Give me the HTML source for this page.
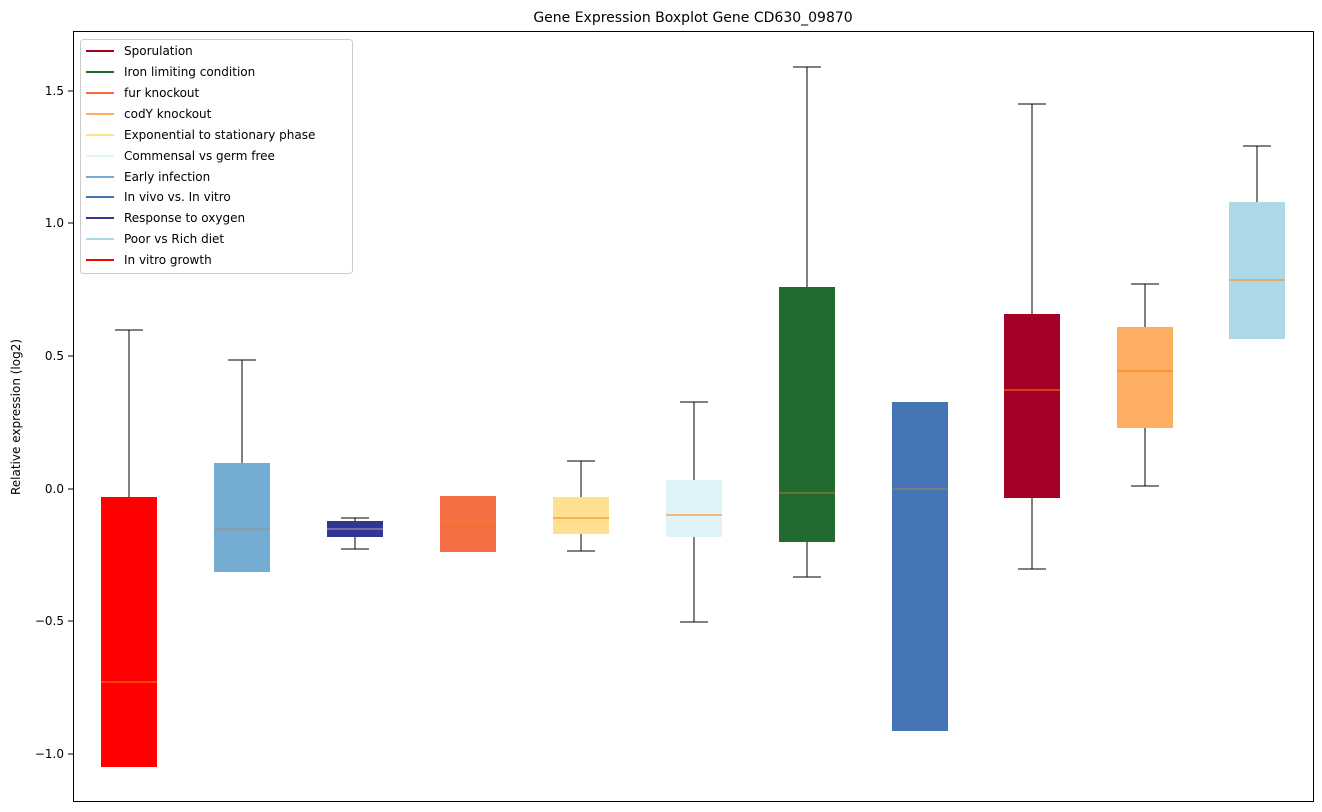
<!DOCTYPE html>
<html><head><meta charset="utf-8"><style>body{margin:0;background:#fff}svg{display:block}</style></head>
<body>
<svg width="1322" height="812" xmlns="http://www.w3.org/2000/svg" font-family="'DejaVu Sans','Liberation Sans',sans-serif">
<rect width="1322" height="812" fill="#fff"/>
<text x="693" y="22" font-size="14" text-anchor="middle">Gene Expression Boxplot Gene CD630_09870</text>
<g stroke="#000" stroke-width="1" shape-rendering="crispEdges">
<line x1="73" y1="91" x2="68" y2="91"/><line x1="73" y1="223" x2="68" y2="223"/><line x1="73" y1="356" x2="68" y2="356"/><line x1="73" y1="489" x2="68" y2="489"/><line x1="73" y1="621" x2="68" y2="621"/><line x1="73" y1="754" x2="68" y2="754"/>
</g>
<g font-size="12" text-anchor="end">
<text x="64" y="95">1.5</text><text x="64" y="227">1.0</text><text x="64" y="360">0.5</text><text x="64" y="493">0.0</text><text x="64" y="625">−0.5</text><text x="64" y="758">−1.0</text>
</g>
<text transform="translate(20,417) rotate(-90)" font-size="12" text-anchor="middle">Relative expression (log2)</text>
<g stroke="#000" stroke-width="1" fill="none" shape-rendering="crispEdges">
<path d="M129 330V497M115 330H143"/>
<path d="M242 360V463M228 360H256"/>
<path d="M355 518V521M355 537V549M341 518H369M341 549H369"/>
<path d="M581 461V497M581 534V551M567 461H595M567 551H595"/>
<path d="M694 402V480M694 537V622M680 402H708M680 622H708"/>
<path d="M807 67V287M807 542V577M793 67H821M793 577H821"/>
<path d="M1032 104V314M1032 498V569M1018 104H1046M1018 569H1046"/>
<path d="M1145 284V327M1145 428V486M1131 284H1159M1131 486H1159"/>
<path d="M1257 146V202M1243 146H1271"/>
</g>
<g>
<rect x="101" y="497" width="56" height="270" fill="#ff0000"/>
<rect x="214" y="463" width="56" height="109" fill="#74add1"/>
<rect x="327" y="521" width="56" height="16" fill="#313695"/>
<rect x="440" y="496" width="56" height="56" fill="#f46d43"/>
<rect x="553" y="497" width="56" height="37" fill="#fee090"/>
<rect x="666" y="480" width="56" height="57" fill="#e0f3f8"/>
<rect x="779" y="287" width="56" height="255" fill="#216b2e"/>
<rect x="892" y="402" width="56" height="329" fill="#4575b4"/>
<rect x="1004" y="314" width="56" height="184" fill="#a50026"/>
<rect x="1117" y="327" width="56" height="101" fill="#fdae61"/>
<rect x="1229" y="202" width="56" height="137" fill="#add8e6"/>
</g>
<g stroke="#ff7f0e" stroke-width="1">
<line x1="101" y1="682" x2="157" y2="682"/><line x1="214" y1="529" x2="270" y2="529" stroke="#a09080"/>
<line x1="327" y1="529" x2="383" y2="529" stroke="#c0a0c0"/><line x1="440" y1="522" x2="496" y2="522"/>
<line x1="553" y1="518" x2="609" y2="518"/><line x1="666" y1="515" x2="722" y2="515"/>
<line x1="779" y1="493" x2="835" y2="493" stroke="#b0802a"/><line x1="892" y1="489" x2="948" y2="489" stroke="#b08050"/>
<line x1="1004" y1="390" x2="1060" y2="390"/><line x1="1117" y1="371" x2="1173" y2="371"/>
<line x1="1229" y1="280" x2="1285" y2="280"/>
</g>
<rect x="73.5" y="31.5" width="1240" height="770" fill="none" stroke="#000"/>
<rect x="80.5" y="39.5" width="272" height="234" fill="#fff" fill-opacity="0.8" stroke="#ccc" rx="3"/>
<g stroke-width="2">
<line x1="86" y1="51" x2="114" y2="51" stroke="#a50026"/>
<line x1="86" y1="72" x2="114" y2="72" stroke="#216b2e"/>
<line x1="86" y1="93" x2="114" y2="93" stroke="#f46d43"/>
<line x1="86" y1="114" x2="114" y2="114" stroke="#fdae61"/>
<line x1="86" y1="135" x2="114" y2="135" stroke="#fee090"/>
<line x1="86" y1="156" x2="114" y2="156" stroke="#e0f3f8"/>
<line x1="86" y1="177" x2="114" y2="177" stroke="#74add1"/>
<line x1="86" y1="197" x2="114" y2="197" stroke="#4575b4"/>
<line x1="86" y1="218" x2="114" y2="218" stroke="#313695"/>
<line x1="86" y1="239" x2="114" y2="239" stroke="#add8e6"/>
<line x1="86" y1="260" x2="114" y2="260" stroke="#ff0000"/>
</g>
<g font-size="12">
<text x="124" y="55">Sporulation</text><text x="124" y="76">Iron limiting condition</text><text x="124" y="97">fur knockout</text>
<text x="124" y="118">codY knockout</text><text x="124" y="139">Exponential to stationary phase</text><text x="124" y="160">Commensal vs germ free</text>
<text x="124" y="181">Early infection</text><text x="124" y="201">In vivo vs. In vitro</text><text x="124" y="222">Response to oxygen</text>
<text x="124" y="243">Poor vs Rich diet</text><text x="124" y="264">In vitro growth</text>
</g>
</svg>
</body></html>
